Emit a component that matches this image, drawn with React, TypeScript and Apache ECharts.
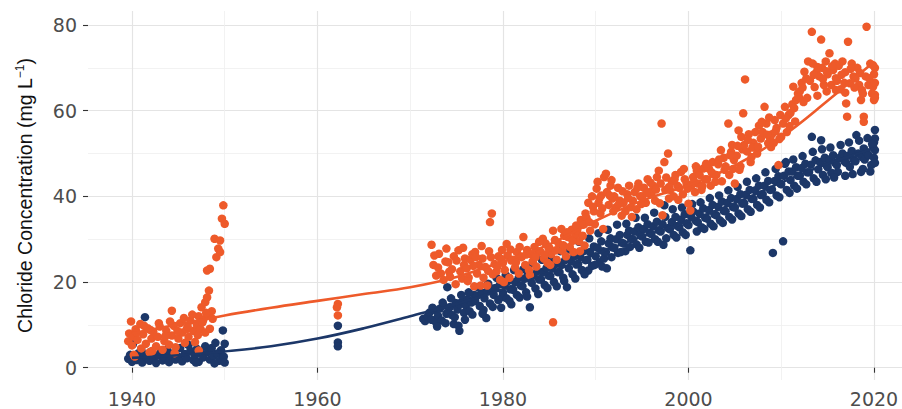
import React, { useEffect, useRef } from "react";
import * as echarts from "echarts";

const ORANGE = "#ee5a2a";
const NAVY = "#1c3768";

const xTicks = [1940, 1960, 1980, 2000, 2020];
const xMinor = [1950, 1970, 1990, 2010];
const yTicks = [0, 20, 40, 60, 80];
const yMinor = [10, 30, 50, 70];

const yTitle = "Chloride Concentration (mg L{sup|−1})";

const navyEarly: [number, number][] = [
  [1939.6, 2.1], [1939.8, 3.0], [1940.0, 1.4], [1940.1, 5.5], [1940.3, 2.6], [1940.5, 1.8], [1940.7, 3.4],
  [1940.9, 2.2], [1941.1, 1.2], [1941.4, 11.8], [1941.4, 3.1], [1941.6, 2.4], [1941.9, 1.6], [1942.1, 3.8],
  [1942.3, 2.0], [1942.6, 1.1], [1942.8, 2.9], [1943.1, 3.6], [1943.3, 1.7], [1943.5, 2.5], [1943.8, 4.2],
  [1944.0, 1.3], [1944.2, 2.8], [1944.5, 3.4], [1944.7, 1.9], [1945.0, 2.6], [1945.2, 4.6], [1945.4, 1.5],
  [1945.7, 3.2], [1945.9, 2.2], [1946.1, 5.3], [1946.3, 3.9], [1946.6, 1.8], [1946.8, 2.9], [1947.0, 4.4],
  [1947.2, 1.4], [1947.5, 3.3], [1947.7, 2.4], [1947.9, 5.0], [1948.2, 3.7], [1948.4, 1.9], [1948.6, 4.6],
  [1948.8, 2.8], [1949.0, 5.8], [1949.2, 3.3], [1949.4, 1.6], [1949.6, 4.1], [1949.8, 8.7], [1949.9, 2.6],
  [1950.0, 1.2], [1950.0, 5.6], [1941.0, 4.2], [1943.9, 3.0], [1946.9, 1.2], [1948.9, 1.0],
  [1962.2, 9.8], [1962.2, 5.9], [1962.2, 5.0],
];

const navyMain: [number, number][] = [
  [1971.4, 11.4], [1971.6, 10.9], [1971.9, 12.0],
  [1972.1, 12.9], [1972.3, 11.2], [1972.6, 13.5], [1972.8, 10.5],
  [1973.0, 12.1], [1973.2, 13.8], [1973.4, 11.0], [1973.6, 14.5], [1973.9, 12.6],
  [1974.0, 18.8], [1974.1, 13.0], [1974.3, 14.2], [1974.5, 12.3], [1974.7, 10.2], [1974.9, 15.1],
  [1975.1, 13.6], [1975.2, 9.8], [1975.3, 14.8], [1975.3, 8.6], [1975.6, 15.5], [1975.8, 12.8],
  [1976.0, 14.5], [1976.2, 16.0], [1976.4, 13.2], [1976.6, 15.2], [1976.9, 17.0],
  [1977.0, 15.6], [1977.2, 16.8], [1977.5, 14.4], [1977.7, 17.5], [1977.9, 13.5],
  [1978.0, 16.2], [1978.2, 11.6], [1978.3, 17.8], [1978.6, 15.0], [1978.8, 18.5],
  [1979.0, 17.0], [1979.2, 18.6], [1979.5, 15.8], [1979.7, 19.5], [1979.9, 16.5],
  [1980.0, 17.5], [1980.2, 19.4], [1980.4, 16.2], [1980.6, 20.3], [1980.8, 18.3], [1980.9, 14.8],
  [1981.1, 18.2], [1981.3, 20.0], [1981.5, 17.0], [1981.7, 21.0], [1981.9, 19.2],
  [1982.1, 19.0], [1982.3, 20.8], [1982.5, 17.6], [1982.7, 21.8], [1982.9, 14.1],
  [1983.1, 19.8], [1983.3, 21.5], [1983.5, 18.5], [1983.7, 22.5], [1983.9, 20.6],
  [1984.1, 20.6], [1984.3, 22.4], [1984.5, 19.3], [1984.7, 23.3], [1984.9, 21.5],
  [1985.1, 21.4], [1985.3, 23.2], [1985.5, 20.0], [1985.7, 24.2], [1985.9, 22.3],
  [1986.1, 22.3], [1986.3, 24.0], [1986.5, 21.0], [1986.7, 25.1], [1986.9, 18.8],
  [1987.1, 23.2], [1987.3, 25.0], [1987.5, 21.8], [1987.7, 26.0], [1987.9, 24.1],
  [1988.1, 24.2], [1988.3, 26.0], [1988.5, 22.8], [1988.7, 27.2], [1988.9, 25.1],
  [1989.1, 25.2], [1989.2, 22.7], [1989.4, 27.0], [1989.6, 23.8], [1989.8, 28.3],
  [1990.0, 26.0], [1990.2, 28.0], [1990.4, 24.6], [1990.6, 29.5], [1990.8, 27.2], [1990.9, 25.5],
  [1991.1, 27.0], [1991.2, 23.2], [1991.4, 29.0], [1991.6, 30.2], [1991.8, 28.1],
  [1992.0, 28.0], [1992.2, 30.0], [1992.4, 26.8], [1992.6, 31.0], [1992.8, 29.2],
  [1993.0, 29.0], [1993.2, 27.2], [1993.4, 31.0], [1993.6, 32.0], [1993.8, 30.1],
  [1994.0, 30.0], [1994.2, 31.8], [1994.4, 28.8], [1994.6, 32.8], [1994.8, 31.0],
  [1995.0, 30.6], [1995.2, 32.4], [1995.4, 29.4], [1995.6, 33.5], [1995.8, 31.5],
  [1996.0, 31.2], [1996.2, 33.0], [1996.4, 30.0], [1996.6, 34.1], [1996.8, 32.1],
  [1997.0, 31.8], [1997.2, 33.5], [1997.3, 28.7], [1997.4, 37.9], [1997.5, 35.2], [1997.8, 32.6],
  [1998.0, 32.3], [1998.2, 34.0], [1998.4, 31.0], [1998.6, 35.2], [1998.8, 33.1],
  [1999.0, 32.8], [1999.2, 34.6], [1999.4, 31.6], [1999.6, 35.8], [1999.8, 33.7],
  [2000.0, 33.3], [2000.2, 27.4], [2000.3, 35.2], [2000.5, 36.5], [2000.8, 34.3],
  [2001.0, 34.0], [2001.2, 36.0], [2001.4, 32.8], [2001.6, 37.2], [2001.8, 35.0],
  [2002.0, 34.8], [2002.2, 36.8], [2002.4, 33.6], [2002.6, 38.0], [2002.8, 35.8],
  [2003.0, 35.6], [2003.2, 37.6], [2003.4, 34.4], [2003.6, 38.8], [2003.8, 36.6],
  [2004.0, 36.5], [2004.2, 38.5], [2004.4, 35.2], [2004.6, 39.6], [2004.8, 37.5],
  [2005.0, 37.4], [2005.2, 39.4], [2005.4, 36.0], [2005.6, 40.5], [2005.8, 38.3],
  [2006.0, 38.4], [2006.2, 40.4], [2006.4, 37.0], [2006.6, 41.5], [2006.8, 39.4],
  [2007.0, 39.4], [2007.2, 41.4], [2007.4, 38.0], [2007.6, 42.5], [2007.8, 40.3],
  [2008.0, 40.5], [2008.2, 42.5], [2008.4, 39.2], [2008.6, 43.6], [2008.8, 41.5],
  [2009.0, 41.6], [2009.1, 26.8], [2009.3, 43.6], [2009.5, 40.2], [2009.7, 44.7], [2009.9, 43.0],
  [2010.0, 42.8], [2010.2, 29.5], [2010.3, 44.8], [2010.4, 47.6], [2010.6, 41.5], [2010.8, 45.8],
  [2011.0, 43.8], [2011.2, 45.8], [2011.4, 42.5], [2011.6, 46.8], [2011.8, 44.8],
  [2012.0, 44.8], [2012.2, 46.6], [2012.4, 43.4], [2012.6, 47.6], [2012.8, 45.6],
  [2013.0, 45.6], [2013.2, 47.4], [2013.3, 53.9], [2013.5, 44.2], [2013.7, 48.4],
  [2014.0, 46.3], [2014.2, 48.0], [2014.3, 53.1], [2014.5, 45.0], [2014.7, 49.0], [2014.9, 47.2],
  [2015.0, 46.8], [2015.2, 48.6], [2015.4, 45.5], [2015.6, 49.6], [2015.8, 47.8],
  [2016.0, 47.3], [2016.1, 45.7], [2016.3, 49.0], [2016.6, 50.0], [2016.8, 48.2],
  [2017.0, 47.8], [2017.2, 49.5], [2017.4, 46.9], [2017.6, 50.6], [2017.8, 48.6],
  [2018.0, 48.2], [2018.1, 54.3], [2018.3, 50.0], [2018.6, 45.7], [2018.7, 49.2], [2018.9, 51.2],
  [2019.0, 48.6], [2019.2, 50.4], [2019.4, 49.6], [2019.7, 47.3], [2019.9, 51.5],
  [2020.0, 49.0], [2020.0, 52.6], [2020.1, 55.5], [2020.1, 50.8], [2020.1, 47.8], [2020.1, 53.5],
];

const navyExtra: [number, number][] = [
  [1972.4, 14.0], [1972.9, 9.6], [1973.5, 15.2], [1973.8, 10.4], [1974.4, 16.2], [1974.8, 11.8],
  [1975.5, 17.0], [1975.9, 11.2], [1976.3, 17.6], [1976.7, 12.4], [1977.3, 18.8], [1977.8, 12.6],
  [1978.4, 19.6], [1978.9, 14.2], [1979.3, 21.0], [1979.8, 14.0], [1980.3, 21.6], [1980.7, 15.6],
  [1981.2, 22.8], [1981.8, 16.4], [1982.2, 23.0], [1982.6, 16.6], [1983.2, 24.4], [1983.8, 17.2],
  [1984.2, 25.2], [1984.8, 18.6], [1985.2, 25.6], [1985.8, 19.0], [1986.2, 27.2], [1986.6, 20.2],
  [1987.2, 27.6], [1987.8, 20.8], [1988.2, 29.4], [1988.8, 21.8], [1989.3, 30.2], [1989.9, 24.0],
  [1990.3, 31.4], [1990.7, 23.6], [1991.3, 32.2], [1991.7, 25.8], [1992.3, 33.4], [1992.7, 27.0],
  [1993.3, 33.6], [1993.7, 28.2], [1994.3, 35.0], [1994.7, 28.0], [1995.3, 35.0], [1995.7, 29.2],
  [1996.3, 36.2], [1996.7, 29.4], [1997.6, 30.2], [1998.3, 37.0], [1998.7, 30.4], [1999.3, 37.4],
  [1999.7, 31.0], [2000.4, 38.2], [2000.9, 31.8], [2001.3, 38.6], [2001.7, 32.4], [2002.3, 39.6],
  [2002.7, 33.0], [2003.3, 40.2], [2003.7, 33.8], [2004.3, 41.4], [2004.7, 34.6], [2005.3, 42.2],
  [2005.7, 35.4], [2006.3, 43.4], [2006.7, 36.4], [2007.3, 44.2], [2007.7, 37.4], [2008.3, 45.6],
  [2008.7, 38.6], [2009.4, 46.4], [2009.8, 39.8], [2010.5, 48.0], [2010.9, 40.8], [2011.3, 48.6],
  [2011.7, 41.8], [2012.3, 49.4], [2012.7, 42.8], [2013.4, 50.4], [2013.8, 43.4], [2014.4, 51.0],
  [2014.8, 44.0], [2015.3, 51.4], [2015.7, 44.4], [2016.4, 52.0], [2016.9, 44.8], [2017.3, 52.6],
  [2017.7, 45.2], [2018.4, 53.0], [2018.8, 46.4], [2019.3, 53.6], [2019.6, 45.8], [2019.8, 52.2],
];

const orangeEarly: [number, number][] = [
  [1939.6, 6.2], [1939.7, 8.0], [1939.9, 10.8], [1940.0, 5.2], [1940.1, 7.3], [1940.2, 3.0], [1940.3, 2.6],
  [1940.4, 9.0], [1940.6, 6.5], [1940.9, 10.2], [1941.0, 4.5], [1941.2, 7.8], [1941.5, 5.6], [1941.7, 9.2],
  [1941.9, 3.6], [1942.1, 6.8], [1942.2, 3.9], [1942.3, 8.4], [1942.6, 5.0], [1942.8, 7.2], [1943.0, 9.6],
  [1943.3, 4.2], [1943.5, 6.2], [1943.7, 8.6], [1944.0, 5.4], [1944.3, 13.3], [1944.3, 7.5], [1944.5, 9.8],
  [1944.6, 3.4], [1944.7, 4.8], [1945.0, 6.8], [1945.2, 10.4], [1945.4, 8.2], [1945.7, 5.8], [1945.9, 9.0],
  [1946.1, 7.2], [1946.3, 11.0], [1946.6, 8.6], [1946.8, 6.0], [1947.0, 10.0], [1947.2, 12.0], [1947.2, 4.0],
  [1947.4, 9.0], [1947.5, 14.1], [1947.7, 11.2], [1947.9, 15.3], [1947.9, 8.2], [1948.1, 16.4], [1948.1, 22.7],
  [1948.2, 12.2], [1948.3, 18.0], [1948.4, 23.1], [1948.4, 9.1], [1948.6, 13.2], [1948.9, 30.1], [1949.1, 25.8],
  [1949.3, 27.8], [1949.5, 29.7], [1949.5, 27.0], [1949.7, 34.8], [1949.85, 37.9], [1950.0, 33.6],
  [1940.5, 8.2], [1941.3, 9.8], [1942.0, 8.8], [1942.9, 10.4], [1943.6, 7.4], [1944.1, 10.8], [1944.9, 8.6],
  [1945.6, 11.6], [1946.0, 9.6], [1946.5, 12.4], [1947.1, 7.6], [1947.6, 10.6], [1948.0, 12.8], [1948.7, 11.4],
  [1962.2, 14.9], [1962.1, 14.1], [1962.2, 12.2],
];

const orangeMain: [number, number][] = [
  [1972.3, 28.7], [1972.5, 24.0], [1972.8, 21.5],
  [1973.1, 26.6], [1973.3, 22.0], [1973.6, 20.5], [1973.8, 24.8],
  [1974.1, 24.6], [1974.3, 21.2], [1974.5, 23.0], [1974.7, 26.0], [1974.9, 19.5],
  [1975.2, 27.4], [1975.4, 22.5], [1975.6, 20.8], [1975.8, 24.0], [1975.9, 25.5],
  [1976.1, 23.2], [1976.3, 21.0], [1976.5, 25.2], [1976.7, 26.5], [1976.9, 19.0],
  [1977.0, 27.0], [1977.2, 22.0], [1977.4, 24.0], [1977.6, 19.2], [1977.8, 25.5], [1977.9, 21.0],
  [1978.1, 23.5], [1978.3, 19.2], [1978.6, 34.0], [1978.8, 36.0], [1978.7, 25.8], [1978.9, 21.8],
  [1979.1, 24.2], [1979.3, 22.5], [1979.5, 26.0], [1979.7, 20.5], [1979.9, 27.5],
  [1980.0, 24.5], [1980.2, 22.8], [1980.4, 28.9], [1980.5, 26.2], [1980.7, 21.0], [1980.9, 25.0],
  [1981.1, 25.2], [1981.3, 23.4], [1981.5, 27.0], [1981.7, 22.0], [1981.9, 26.0],
  [1982.0, 25.8], [1982.2, 30.5], [1982.4, 24.0], [1982.6, 27.5], [1982.8, 22.8],
  [1983.0, 26.5], [1983.2, 24.8], [1983.4, 28.2], [1983.6, 23.6], [1983.8, 27.0],
  [1984.0, 27.2], [1984.3, 30.1], [1984.4, 25.5], [1984.6, 29.0], [1984.8, 24.5],
  [1985.0, 28.0], [1985.2, 26.5], [1985.4, 32.0], [1985.4, 10.6], [1985.6, 29.8], [1985.8, 25.2],
  [1986.0, 29.0], [1986.3, 32.4], [1986.4, 27.3], [1986.6, 30.8], [1986.8, 26.0],
  [1987.0, 30.5], [1987.2, 28.2], [1987.4, 32.2], [1987.6, 27.0], [1987.8, 31.0],
  [1988.0, 32.0], [1988.2, 29.5], [1988.4, 34.5], [1988.6, 30.8], [1988.8, 28.5], [1988.9, 36.0],
  [1989.0, 35.0], [1989.2, 38.5], [1989.4, 32.0], [1989.6, 40.0], [1989.8, 36.5], [1989.9, 33.5],
  [1990.1, 41.8], [1990.2, 43.4], [1990.3, 38.5], [1990.5, 36.0], [1990.6, 40.2], [1990.8, 32.4], [1990.9, 44.5],
  [1991.1, 45.3], [1991.2, 41.0], [1991.4, 38.0], [1991.6, 42.5], [1991.8, 39.5], [1991.9, 36.5],
  [1992.0, 40.0], [1992.2, 37.5], [1992.4, 42.0], [1992.6, 39.0], [1992.8, 35.5],
  [1993.0, 38.5], [1993.2, 36.5], [1993.4, 40.5], [1993.6, 42.5], [1993.8, 37.5],
  [1994.0, 39.0], [1994.2, 41.0], [1994.4, 37.0], [1994.6, 43.0], [1994.8, 40.0],
  [1995.0, 40.0], [1995.2, 42.0], [1995.4, 38.5], [1995.6, 44.0], [1995.8, 41.0],
  [1996.0, 40.5], [1996.2, 42.5], [1996.4, 39.0], [1996.6, 44.5], [1996.8, 46.0],
  [1997.0, 43.0], [1997.1, 57.0], [1997.2, 35.6], [1997.4, 48.0], [1997.5, 41.5], [1997.8, 50.0], [1997.9, 39.5],
  [1998.0, 41.5], [1998.2, 43.5], [1998.4, 40.0], [1998.6, 45.0], [1998.8, 42.5],
  [1999.0, 42.0], [1999.2, 45.7], [1999.4, 40.5], [1999.6, 44.0], [1999.8, 43.0],
  [2000.0, 38.3], [2000.2, 36.7], [2000.3, 42.5], [2000.5, 44.5], [2000.7, 41.0], [2000.9, 46.0],
  [2001.0, 43.0], [2001.2, 45.0], [2001.4, 41.5], [2001.6, 46.5], [2001.8, 44.0],
  [2002.0, 44.0], [2002.2, 46.5], [2002.4, 42.5], [2002.6, 48.0], [2002.8, 45.0],
  [2003.0, 45.0], [2003.2, 47.5], [2003.5, 50.8], [2003.6, 43.5], [2003.8, 49.0],
  [2004.0, 47.0], [2004.3, 57.0], [2004.4, 45.0], [2004.6, 50.4], [2004.7, 52.0], [2004.9, 48.5],
  [2005.0, 43.0], [2005.2, 49.5], [2005.4, 55.4], [2005.6, 47.0], [2005.7, 53.9], [2005.8, 51.0], [2005.9, 59.4],
  [2006.0, 52.0], [2006.1, 67.3], [2006.3, 50.5], [2006.5, 54.5], [2006.7, 48.0], [2006.8, 49.2],
  [2007.0, 52.5], [2007.2, 55.0], [2007.4, 50.0], [2007.6, 56.5], [2007.8, 53.5],
  [2008.0, 55.0], [2008.2, 60.9], [2008.4, 57.0], [2008.6, 52.4], [2008.8, 53.5], [2008.9, 51.5],
  [2009.0, 54.5], [2009.2, 52.5], [2009.3, 57.8], [2009.5, 56.0], [2009.7, 47.3], [2009.9, 59.0],
  [2010.0, 53.9], [2010.2, 57.0], [2010.4, 60.9], [2010.6, 55.0], [2010.8, 59.0],
  [2011.0, 59.5], [2011.2, 61.5], [2011.3, 65.6], [2011.5, 57.5], [2011.6, 62.5], [2011.8, 64.0],
  [2012.0, 64.5], [2012.2, 66.5], [2012.4, 62.0], [2012.5, 69.1], [2012.7, 67.5], [2012.9, 71.5],
  [2013.1, 67.0], [2013.3, 78.4], [2013.4, 71.0], [2013.6, 65.5], [2013.8, 69.0], [2013.9, 63.5],
  [2014.1, 68.0], [2014.3, 76.6], [2014.4, 70.0], [2014.6, 66.0], [2014.8, 71.5], [2014.9, 64.5],
  [2015.0, 68.5], [2015.2, 73.4], [2015.4, 66.0], [2015.6, 69.5], [2015.8, 71.0], [2015.9, 64.8],
  [2016.0, 67.0], [2016.2, 70.5], [2016.4, 65.0], [2016.6, 71.5], [2016.8, 66.5], [2016.9, 69.0],
  [2017.0, 61.7], [2017.1, 58.6], [2017.2, 76.1], [2017.4, 66.4], [2017.6, 71.0], [2017.8, 68.0],
  [2018.0, 67.5], [2018.2, 70.0], [2018.4, 66.0], [2018.6, 62.5], [2018.7, 64.8], [2018.9, 58.6], [2018.9, 57.4],
  [2019.1, 68.0], [2019.2, 79.6], [2019.4, 66.0], [2019.6, 71.0], [2019.8, 64.0], [2019.9, 65.6],
  [2020.0, 62.5], [2020.0, 68.5], [2020.1, 63.7], [2020.1, 66.5], [2020.1, 70.0], [2020.1, 63.0],
];

const orangeExtra: [number, number][] = [
  [1972.6, 26.2], [1973.0, 23.4], [1973.9, 27.8], [1974.2, 22.4], [1975.0, 25.0], [1975.7, 28.0],
  [1976.2, 20.2], [1976.8, 23.8], [1977.1, 25.8], [1977.7, 28.4], [1978.4, 22.6], [1978.5, 27.2],
  [1979.4, 23.6], [1979.8, 25.4], [1980.1, 20.0], [1980.8, 27.6], [1981.4, 24.6], [1981.8, 28.2],
  [1982.5, 26.4], [1982.9, 21.6], [1983.5, 25.8], [1983.9, 29.4], [1984.5, 26.4], [1984.9, 28.0],
  [1985.1, 24.0], [1985.7, 27.4], [1986.5, 28.6], [1986.9, 31.6], [1987.5, 29.6], [1987.9, 33.2],
  [1988.3, 27.2], [1988.7, 33.4], [1989.3, 34.0], [1989.7, 37.6], [1990.4, 39.6], [1990.7, 37.2],
  [1991.5, 40.2], [1991.7, 43.8], [1992.5, 38.2], [1992.9, 41.2], [1993.5, 39.6], [1993.9, 35.2],
  [1994.5, 42.0], [1994.9, 38.2], [1995.5, 40.8], [1995.9, 43.2], [1996.5, 41.6], [1996.9, 38.4],
  [1997.6, 44.4], [1997.9, 42.2], [1998.5, 44.0], [1998.9, 39.2], [1999.5, 46.4], [1999.9, 41.8],
  [2000.6, 43.4], [2000.8, 47.0], [2001.5, 42.4], [2001.9, 47.6], [2002.5, 45.6], [2002.9, 43.4],
  [2003.3, 48.6], [2003.9, 46.2], [2004.5, 49.6], [2004.8, 46.4], [2005.3, 51.8], [2005.5, 46.2],
  [2006.4, 53.2], [2006.9, 51.4], [2007.5, 51.6], [2007.9, 57.4], [2008.5, 54.4], [2008.7, 58.4],
  [2009.4, 55.2], [2009.8, 53.4], [2010.5, 58.2], [2010.9, 56.4], [2011.4, 60.6], [2011.9, 63.2],
  [2012.3, 65.4], [2012.8, 63.0], [2013.5, 68.4], [2013.9, 70.2], [2014.5, 67.4], [2014.9, 69.2],
  [2015.5, 70.4], [2015.9, 67.6], [2016.5, 68.4], [2016.9, 64.2], [2017.5, 69.8], [2017.9, 65.4],
  [2018.5, 68.8], [2018.8, 64.0], [2019.5, 67.6], [2019.9, 70.6],
];

const fitYears = [1940, 1945, 1950, 1955, 1960, 1965, 1970, 1975, 1980, 1985, 1990, 1995, 2000, 2005, 2010, 2015, 2020];
const orangeFit = [8.0, 10.1, 12.2, 14.0, 15.6, 17.2, 18.8, 21.2, 24.8, 28.8, 34.3, 39.0, 42.6, 47.2, 53.8, 62.3, 71.4];
const navyFit = [2.3, 2.9, 3.8, 5.0, 6.8, 9.2, 12.0, 14.9, 18.3, 22.2, 26.5, 30.6, 34.2, 38.4, 43.2, 47.6, 51.2];

const X_MIN = 1935.26;
const X_MAX = 2023.02;
const Y_MIN = -2.87;
const Y_MAX = 83.27;

export default function App() {
  const ref = useRef<HTMLDivElement>(null);

  useEffect(() => {
    if (!ref.current) return;
    const chart = echarts.init(ref.current, null, { renderer: "svg" });
    const labelStyle = { color: "#4d4d4d", fontFamily: "DejaVu Sans" };
    const majorLine = { color: "#e4e4e4", width: 1.2 };
    const minorLine = { color: "#efefef", width: 0.8 };
    const plain = (v: number) => String(Math.round(v));
    chart.setOption({
      animation: false,
      backgroundColor: "#ffffff",
      grid: { left: 88, right: 0, top: 11, bottom: 29 },
      xAxis: [
        {
          type: "value",
          min: X_MIN,
          max: X_MAX,
          axisLine: { show: false },
          axisTick: { show: true, length: 5, lineStyle: { color: "#333333", width: 1.1 }, customValues: xTicks },
          axisLabel: { ...labelStyle, fontSize: 19, margin: 9, customValues: xTicks, formatter: plain },
          splitLine: { show: true, lineStyle: majorLine },
        },
        {
          type: "value",
          position: "top",
          min: X_MIN,
          max: X_MAX,
          axisLine: { show: false },
          axisTick: { show: false, customValues: xMinor },
          axisLabel: { show: false },
          splitLine: { show: true, lineStyle: minorLine },
        },
      ],
      yAxis: [
        {
          type: "value",
          min: Y_MIN,
          max: Y_MAX,
          axisLine: { show: false },
          axisTick: { show: true, length: 5, lineStyle: { color: "#333333", width: 1.1 }, customValues: yTicks },
          axisLabel: { ...labelStyle, fontSize: 19, margin: 11, customValues: yTicks, formatter: plain },
          splitLine: { show: true, lineStyle: majorLine },
          name: yTitle,
          nameLocation: "middle",
          nameRotate: 90,
          nameGap: 52,
          nameTextStyle: {
            fontFamily: "Liberation Sans",
            fontSize: 19.5,
            color: "#111111",
            lineHeight: 22,
            rich: {
              sup: { fontFamily: "Liberation Sans", fontSize: 12, color: "#111111", verticalAlign: "top", lineHeight: 22 },
            },
          },
        },
        {
          type: "value",
          position: "right",
          min: Y_MIN,
          max: Y_MAX,
          axisLine: { show: false },
          axisTick: { show: false, customValues: yMinor },
          axisLabel: { show: false },
          splitLine: { show: true, lineStyle: minorLine },
        },
      ],
      series: [
        {
          type: "scatter",
          data: [...navyEarly, ...navyMain, ...navyExtra],
          symbolSize: 8.5,
          itemStyle: { color: NAVY, opacity: 1 },
          z: 3,
        },
        {
          type: "scatter",
          data: [...orangeEarly, ...orangeMain, ...orangeExtra],
          symbolSize: 8.5,
          itemStyle: { color: ORANGE, opacity: 1 },
          z: 4,
        },
        {
          type: "line",
          data: fitYears.map((y, i) => [y, navyFit[i]]),
          showSymbol: false,
          smooth: 0.4,
          lineStyle: { color: NAVY, width: 2.6 },
          z: 5,
        },
        {
          type: "line",
          data: fitYears.map((y, i) => [y, orangeFit[i]]),
          showSymbol: false,
          smooth: 0.4,
          lineStyle: { color: ORANGE, width: 2.6 },
          z: 6,
        },
      ],
    });
    return () => chart.dispose();
  }, []);

  return (
    <div
      ref={ref}
      style={{ position: "fixed", left: 0, top: 0, width: 902, height: 409, background: "#fff" }}
    />
  );
}
